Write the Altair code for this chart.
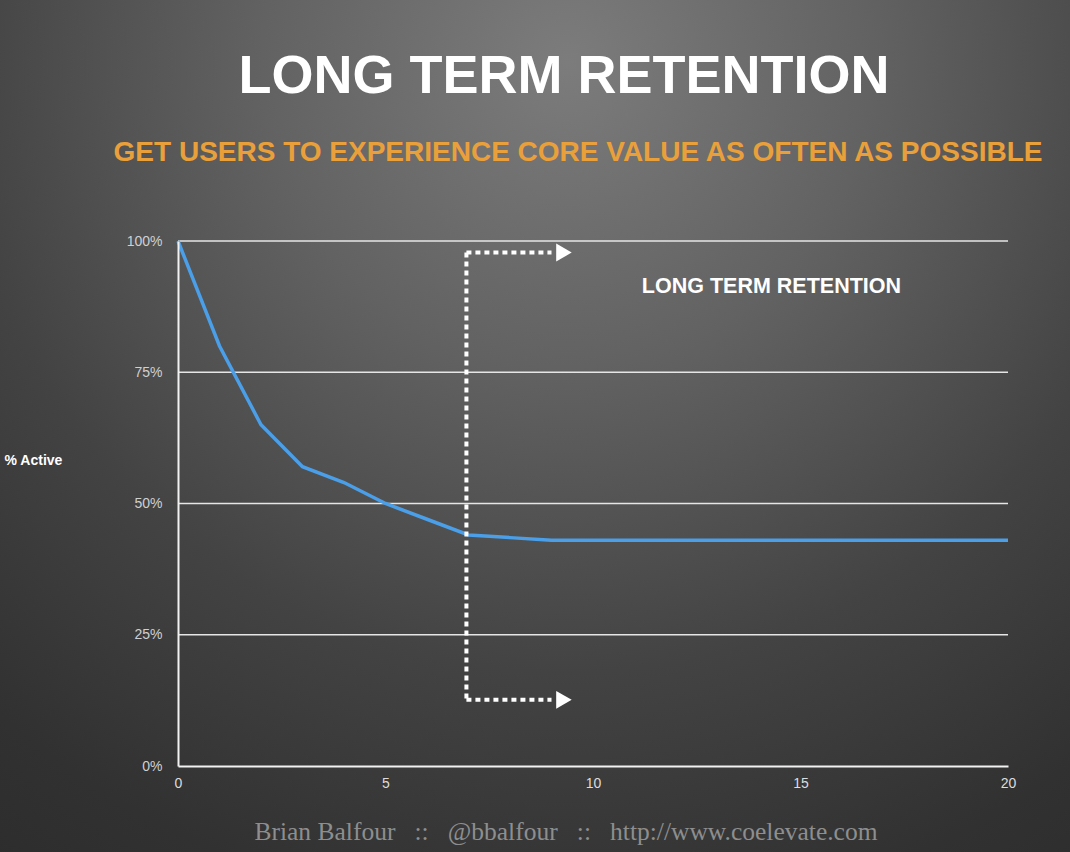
import altair as alt
import pandas as pd

# ---- data ----
periods = [0, 1, 2, 3, 4, 5, 6, 7, 8, 9, 10, 11, 12, 13, 14, 15, 16, 17, 18, 19, 20]
pct_active = [100, 80, 65, 57, 54, 50, 47, 44, 43.5, 43, 43, 43, 43, 43, 43, 43, 43, 43, 43, 43, 43]

x_ticks = [0, 5, 10, 15, 20]
y_ticks = [0, 25, 50, 75, 100]

marker_x = [6.95]
marker_y_top = [97.8]
marker_y_bottom = [12.6]
arrow_x_end = [9.0]
arrow_tip_x = [9.3]

annot_text = ["LONG TERM RETENTION"]
annot_x = [14.3]
annot_y = [91.3]

title_text = "LONG TERM RETENTION"
subtitle_text = "GET USERS TO EXPERIENCE CORE VALUE AS OFTEN AS POSSIBLE"
SP = "\u00a0\u00a0\u00a0"
footer_text = "Brian Balfour" + SP + "::" + SP + "@bbalfour" + SP + "::" + SP + "http://www.coelevate.com"

W, H = 830, 525
PAD_L, PAD_T, PAD_R, PAD_B = 178, 241, 62, 86

df = pd.DataFrame({"period": periods, "active": pct_active})
grid_df = pd.DataFrame({"g": y_ticks[1:]})
one = pd.DataFrame({"k": [0]})

xs = alt.Scale(domain=[0, 20], nice=False, zero=False)
ys = alt.Scale(domain=[0, 100], nice=False)

x_axis = alt.Axis(values=x_ticks, grid=False, ticks=False, domain=True,
                  domainColor="#f2f2f2", domainWidth=2, zindex=1, labelFlush=False,
                  labelColor="#dddddd", labelFontSize=14, labelPadding=10,
                  labelFont="Liberation Sans", title=None)
y_axis = alt.Axis(values=y_ticks, grid=False,
                  ticks=False, domain=True, domainColor="#f2f2f2", domainWidth=2,
                  zindex=1,
                  labelColor="#d0d0d0", labelFontSize=14, labelPadding=16,
                  labelFont="Liberation Sans",
                  labelExpr="datum.value + '%'",
                  title="% Active", titleAngle=0, titleAlign="left",
                  titleBaseline="middle",
                  titleX=-PAD_L + 4, titleY=219,
                  titleColor="#ffffff", titleFontSize=14, titleFontWeight="bold",
                  titleFont="Liberation Sans")

# background gradient
bg = alt.Chart(one).mark_rect(
    fill=alt.RadialGradient(
        gradient="radial",
        x1=0.53, y1=0.16, r1=0.0,
        x2=0.53, y2=0.16, r2=0.95,
        stops=[
            alt.GradientStop(color="#7c7c7c", offset=0.0),
            alt.GradientStop(color="#626262", offset=0.3),
            alt.GradientStop(color="#434343", offset=0.6),
            alt.GradientStop(color="#313131", offset=0.85),
            alt.GradientStop(color="#2c2c2c", offset=1.0),
        ],
    ),
    stroke=None,
).encode(
    x=alt.value(-PAD_L), x2=alt.value(W + PAD_R),
    y=alt.value(-PAD_T), y2=alt.value(H + PAD_B),
)

grid = alt.Chart(grid_df).mark_rule(color="#e6e6e6", strokeWidth=1.3).encode(
    y=alt.Y("g:Q", scale=ys, axis=y_axis),
    x=alt.value(0), x2=alt.value(W),
)

line = alt.Chart(df).mark_line(color="#4a9fe8", strokeWidth=3.5).encode(
    x=alt.X("period:Q", scale=xs, axis=x_axis),
    y=alt.Y("active:Q", scale=ys, axis=y_axis),
)

mk = pd.DataFrame({"x": marker_x, "x_end": arrow_x_end, "tip": arrow_tip_x,
                   "top": marker_y_top, "bottom": marker_y_bottom})

dash = dict(color="white", strokeWidth=4, strokeDash=[5, 4])
vline = alt.Chart(mk).mark_rule(**dash).encode(
    x=alt.X("x:Q", scale=xs, axis=x_axis), y=alt.Y("top:Q", scale=ys, axis=y_axis), y2="bottom:Q")
hline_top = alt.Chart(mk).mark_rule(**dash).encode(
    x=alt.X("x:Q", scale=xs, axis=x_axis), x2="x_end:Q", y=alt.Y("top:Q", scale=ys, axis=y_axis))
hline_bot = alt.Chart(mk).mark_rule(**dash).encode(
    x=alt.X("x:Q", scale=xs, axis=x_axis), x2="x_end:Q", y=alt.Y("bottom:Q", scale=ys, axis=y_axis))
tip_top = alt.Chart(mk).mark_point(shape="triangle-right", filled=True, color="white",
                                   size=320, opacity=1).encode(
    x=alt.X("tip:Q", scale=xs, axis=x_axis), y=alt.Y("top:Q", scale=ys, axis=y_axis))
tip_bot = alt.Chart(mk).mark_point(shape="triangle-right", filled=True, color="white",
                                   size=320, opacity=1).encode(
    x=alt.X("tip:Q", scale=xs, axis=x_axis), y=alt.Y("bottom:Q", scale=ys, axis=y_axis))

ann = alt.Chart(pd.DataFrame({"t": annot_text, "x": annot_x, "y": annot_y})).mark_text(
    color="white", fontSize=21.5, fontWeight="bold",
    font="Liberation Sans",
    align="center", baseline="middle").encode(
    x=alt.X("x:Q", scale=xs, axis=x_axis), y=alt.Y("y:Q", scale=ys, axis=y_axis), text="t:N")

title = alt.Chart(one).mark_text(
    text=title_text, color="white", fontSize=54, fontWeight="bold",
    font="Liberation Sans",
    align="center", baseline="alphabetic").encode(
    x=alt.value(564 - PAD_L), y=alt.value(93 - PAD_T))

subtitle = alt.Chart(one).mark_text(
    text=subtitle_text, color="#eaa03a", fontSize=28, fontWeight="bold",
    font="Liberation Sans",
    align="center", baseline="alphabetic").encode(
    x=alt.value(578 - PAD_L), y=alt.value(161 - PAD_T))

footer = alt.Chart(one).mark_text(
    text=footer_text, color="#8e8e8e", fontSize=25.5,
    font="Liberation Serif",
    align="center", baseline="alphabetic").encode(
    x=alt.value(566 - PAD_L), y=alt.value(840 - PAD_T))

chart = alt.layer(
    bg, grid, line, vline, hline_top, hline_bot, tip_top, tip_bot, ann, title, subtitle, footer
).properties(
    width=W, height=H,
    autosize=alt.AutoSizeParams(type="none"),
    padding={"left": PAD_L, "top": PAD_T, "right": PAD_R, "bottom": PAD_B},
    background="#2e2e2e",
).configure_view(stroke=None)

chart.save("out.html", embed_options={"renderer": "svg", "actions": False})
